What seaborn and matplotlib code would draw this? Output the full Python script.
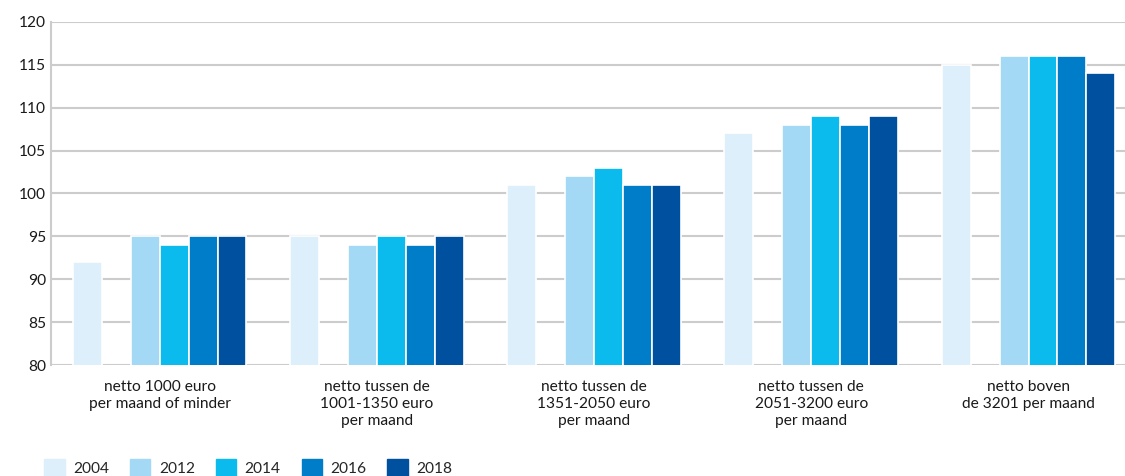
import matplotlib
matplotlib.use('Agg')
import matplotlib.pyplot as plt
import matplotlib.patches as mpatches
import pandas as pd
import seaborn as sns

categories = ['netto 1000 euro\nper maand of minder',
              'netto tussen de\n1001-1350 euro\nper maand',
              'netto tussen de\n1351-2050 euro\nper maand',
              'netto tussen de\n2051-3200 euro\nper maand',
              'netto boven\nde 3201 per maand']
years = ['2004', '2012', '2014', '2016', '2018']
v2004 = [92, 95, 101, 107, 115]
v2012 = [95, 94, 102, 108, 116]
v2014 = [94, 95, 103, 109, 116]
v2016 = [95, 94, 101, 108, 116]
v2018 = [95, 95, 101, 109, 114]
colors = ['#DDEFFB', '#A3D9F5', '#0BBBEE', '#007DC8', '#0050A0']

sns.set_style('white')
plt.rcParams['font.family'] = ['Lato', 'DejaVu Sans']

rows = []
for year, vals in zip(years, [v2004, v2012, v2014, v2016, v2018]):
    for cat, v in zip(categories, vals):
        rows.append({'cat': cat, 'year': year, 'value': v})
df = pd.DataFrame(rows)

# empty slot between 2004 and 2012, like the original
hue_order = ['2004', 'gap', '2012', '2014', '2016', '2018']
palette = dict(zip(years, colors))
palette['gap'] = 'white'

fig = plt.figure(figsize=(11.25, 4.76), dpi=100)
ax = fig.add_axes([0.0453, 0.233, 0.9655, 0.721])
sns.barplot(data=df, x='cat', y='value', hue='year', hue_order=hue_order,
            order=categories, palette=palette, saturation=1, width=0.80,
            ax=ax, edgecolor='white', linewidth=1.2, legend=False)

ax.set_ylim(80, 120)
ax.set_xlim(-0.5, 4.5)
ax.set_yticks(range(80, 121, 5))
ax.yaxis.grid(True, color='#CCCCCC', lw=1.5)
ax.set_axisbelow(True)
for s in ['top', 'right', 'bottom']:
    ax.spines[s].set_visible(False)
ax.spines['left'].set_color('#CCCCCC')
ax.spines['left'].set_linewidth(1.5)
ax.tick_params(axis='both', length=0, labelsize=11.2, colors='#1a1a1a')
ax.tick_params(axis='x', pad=11)
ax.set_xlabel('')
ax.set_ylabel('')
for lbl in ax.get_xticklabels():
    lbl.set_linespacing(1.25)

handles = [mpatches.Patch(color=c, label=y) for y, c in zip(years, colors)]
fig.legend(handles=handles, loc='lower left', bbox_to_anchor=(0.027, -0.03),
           ncol=5, frameon=False, fontsize=11.2, handlelength=1.3,
           handleheight=1.3, columnspacing=1.35, handletextpad=0.55)

fig.savefig('out.png', dpi=100)
